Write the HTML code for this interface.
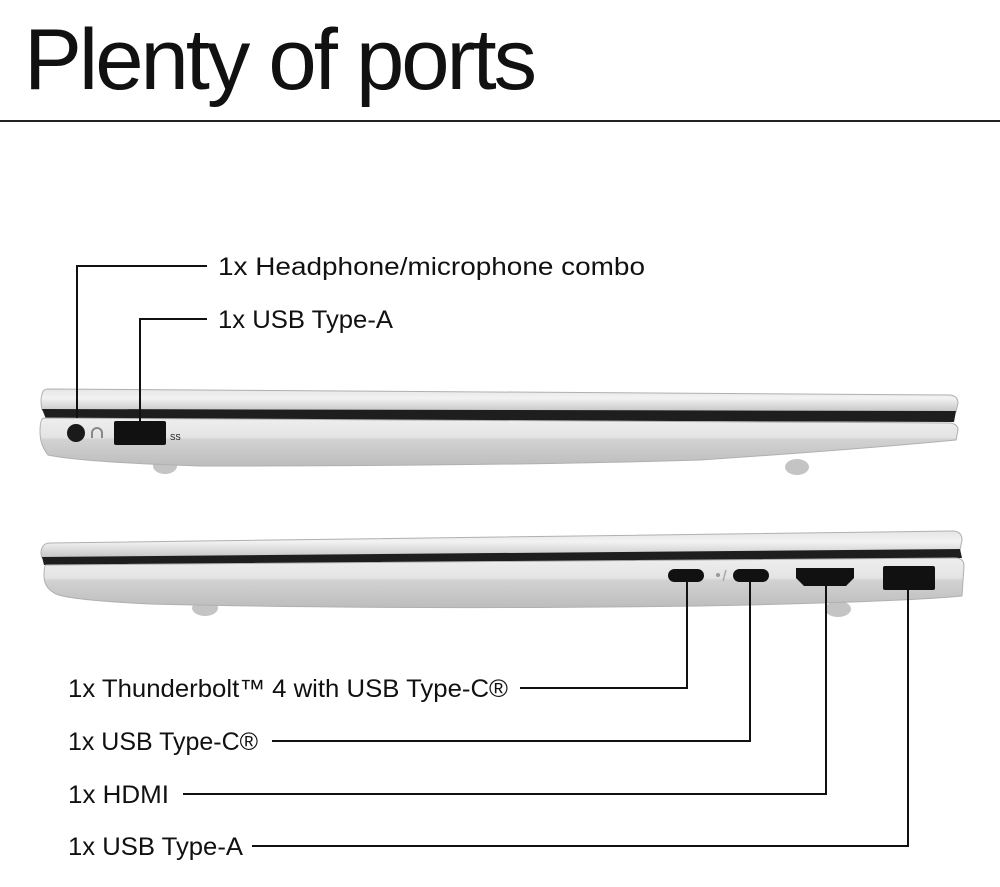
<!DOCTYPE html>
<html><head><meta charset="utf-8"><style>
html,body{margin:0;padding:0;background:#fff;}
svg{display:block;}
text{font-family:"Liberation Sans",Arial,sans-serif;fill:#111;}
</style></head><body>
<svg width="1000" height="887" viewBox="0 0 1000 887" xmlns="http://www.w3.org/2000/svg">
<defs>
<linearGradient id="lid" x1="0" y1="0" x2="0" y2="1">
<stop offset="0" stop-color="#e6e6e6"/><stop offset="0.4" stop-color="#f2f2f2"/><stop offset="1" stop-color="#c4c4c4"/></linearGradient>
<linearGradient id="base" x1="0" y1="0" x2="0" y2="1">
<stop offset="0" stop-color="#eeeeee"/><stop offset="0.4" stop-color="#e4e4e4"/><stop offset="0.45" stop-color="#d2d2d2"/><stop offset="1" stop-color="#bdbdbd"/></linearGradient>
</defs>
<text x="24" y="89" font-size="86" textLength="510" lengthAdjust="spacingAndGlyphs" letter-spacing="-3">Plenty of ports</text>
<rect x="0" y="120" width="1000" height="2" fill="#222"/>

<!-- Laptop 1 -->
<ellipse cx="165" cy="466" rx="12" ry="8" fill="#c4c4c4"/>
<ellipse cx="797" cy="467" rx="12" ry="8" fill="#c4c4c4"/>
<path d="M48 389 L950 395 Q958 396 958 403 L956 412 L42 410 Q40 400 42 394 Q43 389 48 389Z" fill="url(#lid)" stroke="#b0b0b0" stroke-width="1"/>
<path d="M42 409 L956 411 L954 422 L46 419 Z" fill="#1e1e1e"/>
<path d="M44 418 L950 423 Q958 424 958 430 L956 440 Q850 450 700 460 Q500 466 200 466 Q80 462 48 455 Q40 445 40 432 Q40 418 44 418Z" fill="url(#base)" stroke="#b0b0b0" stroke-width="1"/>
<circle cx="76" cy="433" r="9" fill="#1a1a1a"/>
<path d="M92 438 v-5 a5 5 0 0 1 10 0 v5" stroke="#888" stroke-width="2" fill="none"/>
<rect x="114" y="421" width="52" height="24" rx="2" fill="#111"/>
<text x="170" y="440" font-size="8" fill="#999">SS</text>

<!-- Laptop 2 -->
<ellipse cx="205" cy="608" rx="13" ry="8" fill="#c4c4c4"/>
<ellipse cx="838" cy="609" rx="13" ry="8" fill="#c4c4c4"/>
<path d="M50 543 L952 531 Q962 531 962 540 L960 550 L42 558 Q40 552 42 548 Q44 543 50 543Z" fill="url(#lid)" stroke="#b0b0b0" stroke-width="1"/>
<path d="M42 557 L960 549 L962 558 L44 565Z" fill="#1e1e1e"/>
<path d="M46 565 L955 558 Q964 558 964 566 L962 596 Q900 602 700 606 Q400 610 150 604 Q70 600 56 594 Q44 588 44 576 Q44 565 46 565Z" fill="url(#base)" stroke="#b0b0b0" stroke-width="1"/>
<rect x="668" y="569" width="36" height="13" rx="6.5" fill="#111"/>
<circle cx="718" cy="575" r="2" fill="#999"/>
<path d="M726 570 l-3 11" stroke="#aaa" stroke-width="1.5"/>
<rect x="733" y="569" width="36" height="13" rx="6.5" fill="#111"/>
<path d="M796 568 L854 568 L854 578 L846 586 L804 586 L796 578Z" fill="#111"/>
<rect x="883" y="566" width="52" height="24" rx="2" fill="#111"/>

<!-- leader lines -->
<g stroke="#111" stroke-width="2" fill="none">
<path d="M207 266 H77 V418"/>
<path d="M207 319 H140 V426"/>
<path d="M520 688 H687 V582"/>
<path d="M272 741 H750 V582"/>
<path d="M183 794 H826 V586"/>
<path d="M252 846 H908 V590"/>
</g>
<g font-size="25">
<text x="218" y="275" textLength="427" lengthAdjust="spacingAndGlyphs">1x Headphone/microphone combo</text>
<text x="218" y="328" textLength="175" lengthAdjust="spacingAndGlyphs">1x USB Type-A</text>
<text x="68" y="697" textLength="440" lengthAdjust="spacingAndGlyphs">1x Thunderbolt™ 4 with USB Type-C®</text>
<text x="68" y="750" textLength="190" lengthAdjust="spacingAndGlyphs">1x USB Type-C®</text>
<text x="68" y="803" textLength="101" lengthAdjust="spacingAndGlyphs">1x HDMI</text>
<text x="68" y="855" textLength="175" lengthAdjust="spacingAndGlyphs">1x USB Type-A</text>
</g>
</svg>
</body></html>
